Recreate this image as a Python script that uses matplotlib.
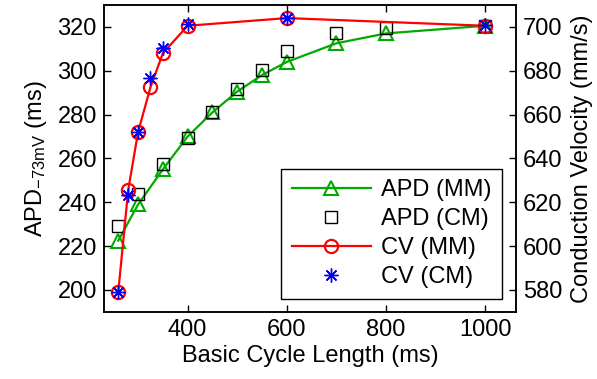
import matplotlib
matplotlib.use("Agg")
from matplotlib import pyplot as plt

plt.rcParams['font.family'] = ['Liberation Sans', 'DejaVu Sans']
plt.rcParams['mathtext.fontset'] = 'custom'
plt.rcParams['mathtext.rm'] = 'Liberation Sans'
plt.rcParams['mathtext.it'] = 'Liberation Sans:italic'
plt.rcParams['font.size'] = 17

# data
apd_mm_bcl = [260, 300, 350, 400, 450, 500, 550, 600, 700, 800, 1000]
apd_mm = [222.5, 239, 255, 270, 281, 290.5, 298, 304, 312.5, 317, 320.5]
apd_cm_bcl = [260, 300, 350, 400, 450, 500, 550, 600, 700, 800, 1000]
apd_cm = [229, 244, 257.5, 269.5, 281, 291.5, 300.5, 309, 317, 319.5, 320.5]

cv_mm_bcl = [260, 280, 300, 325, 350, 400, 600, 1000]
cv_mm = [579, 625.5, 652, 672.5, 688, 700.5, 704, 700.5]
cv_cm_bcl = [260, 280, 300, 325, 350, 400, 600, 1000]
cv_cm = [579, 623.5, 652, 676.5, 690.5, 701.5, 704, 701]

fig = plt.figure(figsize=(5.97, 3.79), dpi=100)
ax = fig.add_axes([0.174, 0.177, 0.69, 0.81])
ax2 = ax.twinx()

h1, = ax.plot(apd_mm_bcl, apd_mm, color='#00aa00', lw=1.6, marker='^', markersize=10,
              markerfacecolor='none', markeredgewidth=1.5, label='APD (MM)')
h2, = ax.plot(apd_cm_bcl, apd_cm, ls='none', color='black', marker='s', markersize=8,
              markerfacecolor='none', markeredgewidth=1.0, label='APD (CM)')
h3, = ax2.plot(cv_mm_bcl, cv_mm, color='red', lw=1.6, marker='o', markersize=9.5,
               markerfacecolor='none', markeredgewidth=1.6, label='CV (MM)')
h4, = ax2.plot(cv_cm_bcl, cv_cm, ls='none', color='blue', marker=(8, 2, 0), markersize=10,
               markeredgewidth=1.0, label='CV (CM)')

ax.set_xlim(231, 1062)
ax.set_ylim(190, 330)
ax2.set_ylim(570, 710)
ax.set_xticks([400, 600, 800, 1000])
ax.set_yticks(range(200, 321, 20))
ax2.set_yticks(range(580, 701, 20))

ax.set_xlabel('Basic Cycle Length (ms)', labelpad=3)
ax.set_ylabel(r'APD$_{\mathrm{-73mV}}$ (ms)', labelpad=6)
ax2.set_ylabel('Conduction Velocity (mm/s)', labelpad=6)

for a in (ax, ax2):
    for s in a.spines.values():
        s.set_linewidth(1.1)
ax.tick_params(direction='in', top=True, length=5, width=1, pad=5)
ax2.tick_params(direction='in', length=5, width=1, pad=5)

leg = ax2.legend([h1, h2, h3, h4], ['APD (MM)', 'APD (CM)', 'CV (MM)', 'CV (CM)'],
                 loc='lower right', bbox_to_anchor=(0.966, 0.042), borderaxespad=0,
                 fancybox=False, edgecolor='black', framealpha=1, borderpad=0.45,
                 labelspacing=0.3, handlelength=3.35, handletextpad=0.42, fontsize=17)
leg.get_frame().set_linewidth(1.0)

fig.savefig('out.png', dpi=100)
